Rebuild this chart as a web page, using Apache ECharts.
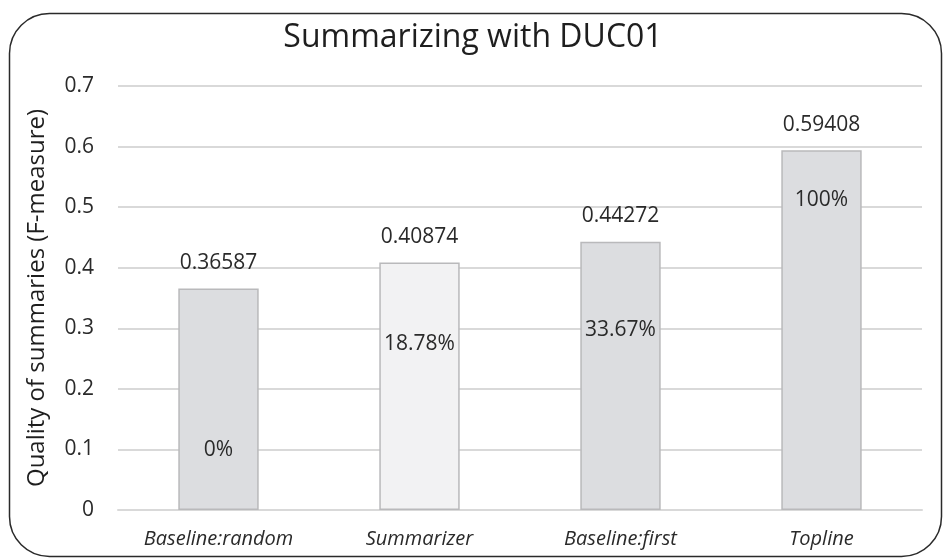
<!DOCTYPE html>
<html>
<head>
<meta charset="utf-8">
<script src="https://cdn.jsdelivr.net/npm/echarts@6/dist/echarts.min.js"></script>
<style>
  html, body { margin: 0; padding: 0; background: #ffffff; }
  #chart { width: 946px; height: 558px; }
</style>
</head>
<body>
<div id="chart"></div>
<script>
// Data
const categories = ['Baseline:random', 'Summarizer', 'Baseline:first', 'Topline'];
const fMeasure = [0.36587, 0.40874, 0.44272, 0.59408];
const relativeGain = ['0%', '18.78%', '33.67%', '100%'];
const yTicks = [0, 0.1, 0.2, 0.3, 0.4, 0.5, 0.6, 0.7];

// Styling
const barFills = ['#dcdde0', '#f2f2f3', '#dcdde0', '#dcdde0'];
// Distance (px) from each bar's top edge down to its percentage label
const gainLabelDistance = [151, 71, 78, 39];
const FONT = '"Open Sans", "Noto Sans", sans-serif';

const chart = echarts.init(document.getElementById('chart'), null, { renderer: 'canvas' });

chart.setOption({
  backgroundColor: '#ffffff',
  animation: false,
  title: {
    text: 'Summarizing with DUC01',
    left: 'center',
    top: 17,
    textStyle: { fontFamily: FONT, fontSize: 32, fontWeight: 'normal', color: '#1e1e1e' }
  },
  grid: { left: 118, right: 24, top: 86, bottom: 48 },
  xAxis: {
    type: 'category',
    data: categories,
    axisLine: { show: true, lineStyle: { color: '#d9d9d9', width: 2 } },
    axisTick: { show: false },
    axisLabel: {
      interval: 0,
      margin: 19,
      fontFamily: FONT,
      fontStyle: 'italic',
      fontSize: 20,
      color: '#2a2a2a'
    }
  },
  yAxis: {
    type: 'value',
    min: yTicks[0],
    max: yTicks[yTicks.length - 1],
    interval: 0.1,
    name: 'Quality of summaries (F-measure)',
    nameLocation: 'middle',
    nameGap: 69,
    nameTextStyle: { fontFamily: FONT, fontSize: 24, color: '#1e1e1e' },
    axisLine: { show: false },
    axisTick: { show: false },
    axisLabel: {
      margin: 24,
      fontFamily: FONT,
      fontSize: 21,
      color: '#2a2a2a',
      formatter: v => String(Math.round(v * 10) / 10)
    },
    splitLine: { lineStyle: { color: '#d9d9d9', width: 2 } }
  },
  series: [
    {
      name: 'F-measure',
      type: 'bar',
      barWidth: '40%',
      data: fMeasure.map((v, i) => ({
        value: v,
        itemStyle: { color: barFills[i], borderColor: '#b9b9bb', borderWidth: 1.5 }
      })),
      label: {
        show: true,
        position: 'top',
        distance: 15,
        fontFamily: FONT,
        fontSize: 21,
        color: '#2a2a2a',
        formatter: p => String(p.value)
      }
    },
    {
      name: 'Relative gain',
      type: 'bar',
      barWidth: '40%',
      barGap: '-100%',
      silent: true,
      data: fMeasure.map((v, i) => ({
        value: v,
        itemStyle: { color: 'rgba(0,0,0,0)', borderWidth: 0 },
        label: { distance: gainLabelDistance[i] }
      })),
      label: {
        show: true,
        position: 'insideTop',
        fontFamily: FONT,
        fontSize: 21,
        color: '#2a2a2a',
        formatter: p => relativeGain[p.dataIndex]
      }
    }
  ],
  graphic: [
    {
      type: 'rect',
      left: 7,
      top: 11,
      shape: { width: 932, height: 543, r: 40 },
      style: { fill: 'none', stroke: '#2a2a2a', lineWidth: 1.5 },
      z: 100
    }
  ]
});
</script>
</body>
</html>
